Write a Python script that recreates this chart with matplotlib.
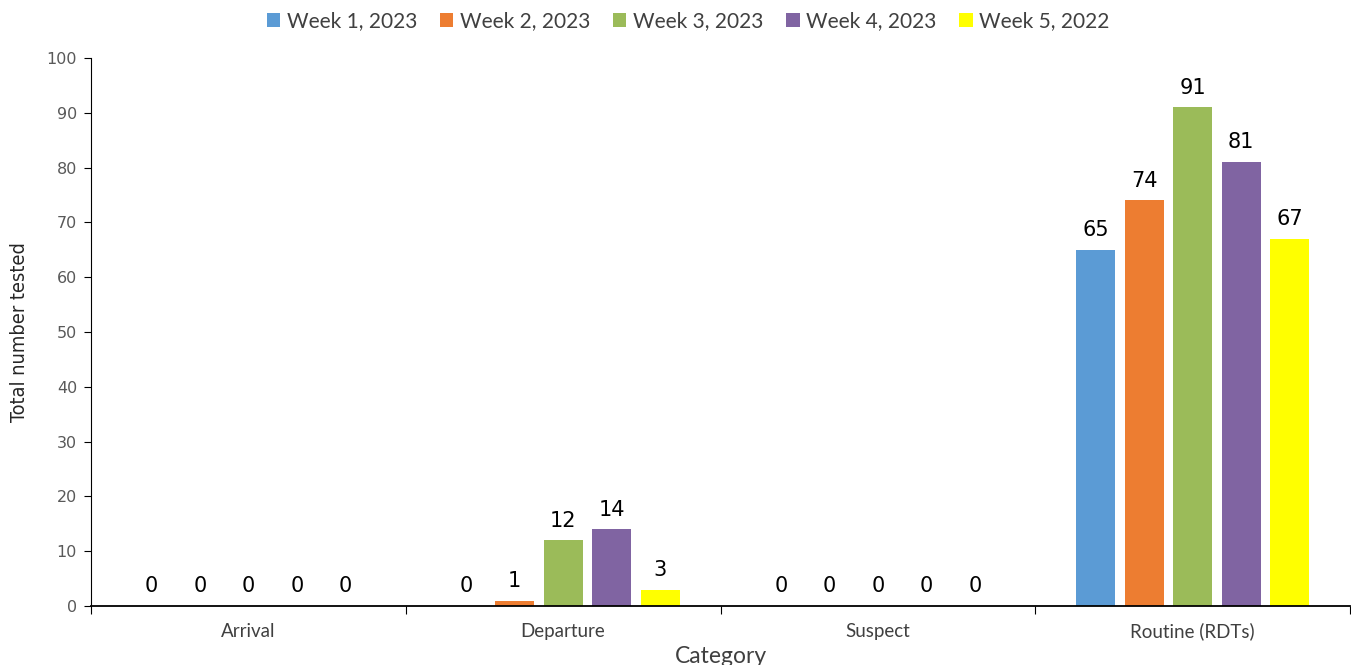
import matplotlib
matplotlib.use("Agg")
import matplotlib.pyplot as plt
import numpy as np

categories = ["Arrival", "Departure", "Suspect", "Routine (RDTs)"]
series_names = ["Week 1, 2023", "Week 2, 2023", "Week 3, 2023", "Week 4, 2023", "Week 5, 2022"]
week1 = [0, 0, 0, 65]
week2 = [0, 1, 0, 74]
week3 = [0, 12, 0, 91]
week4 = [0, 14, 0, 81]
week5 = [0, 3, 0, 67]
colors = ["#5B9BD5", "#ED7D31", "#9BBB59", "#8064A2", "#FFFF00"]
yticks = [0, 10, 20, 30, 40, 50, 60, 70, 80, 90, 100]

series = [week1, week2, week3, week4, week5]

fig = plt.figure(figsize=(13.51, 6.65), dpi=100)
ax = fig.add_axes([91/1351, 1-606/665, (1350-91)/1351, (606-58)/665])

x = np.arange(len(categories))
width = 0.124
step = 0.154
handles = []
for i, (vals, name, c) in enumerate(zip(series, series_names, colors)):
    pos = x + (i - 2) * step
    b = ax.bar(pos, vals, width=width, color=c, label=name, zorder=2)
    handles.append(b)
    for p, v in zip(pos, vals):
        ax.annotate(str(v), (p, v), xytext=(0, 7), textcoords="offset points",
                    ha="center", va="bottom", fontsize=15, color="black",
                    family="DejaVu Sans")

ax.set_xlim(-0.5, len(categories) - 0.5)
ax.set_ylim(0, 100)
ax.set_yticks(yticks)
ax.tick_params(axis="y", labelsize=11.5, labelcolor="#595959", direction="out", length=5, color="black", pad=5)
ax.set_xticks(np.arange(-0.5, len(categories), 1.0))
ax.set_xticklabels([])
ax.set_xticks(x, minor=True)
ax.set_xticklabels(categories, minor=True, fontsize=13.5, color="#404040", family=["Lato", "DejaVu Sans"])
ax.tick_params(axis="x", which="major", direction="out", length=6, color="black")
ax.tick_params(axis="x", which="minor", length=0, pad=12)

for s in ["top", "right"]:
    ax.spines[s].set_visible(False)
ax.spines["left"].set_color("black")
ax.spines["bottom"].set_color("black")
ax.spines["bottom"].set_linewidth(1.3)

ax.set_ylabel("Total number tested", fontsize=14.3, color="#262626",
              family="DejaVu Sans", fontstretch="condensed", labelpad=13)
ax.set_xlabel("Category", fontsize=16.5, color="#404040", family=["Lato", "DejaVu Sans"], labelpad=4)

fig.legend(handles=handles, labels=series_names, loc="center", bbox_to_anchor=(688/1351, 1-21/665),
           ncol=5, frameon=False, prop={"family": ["Lato", "DejaVu Sans"], "size": 15},
           labelcolor="#404040", handlelength=0.65, handleheight=0.65, handletextpad=0.3,
           columnspacing=1.1)

fig.savefig("out.png", dpi=100)
